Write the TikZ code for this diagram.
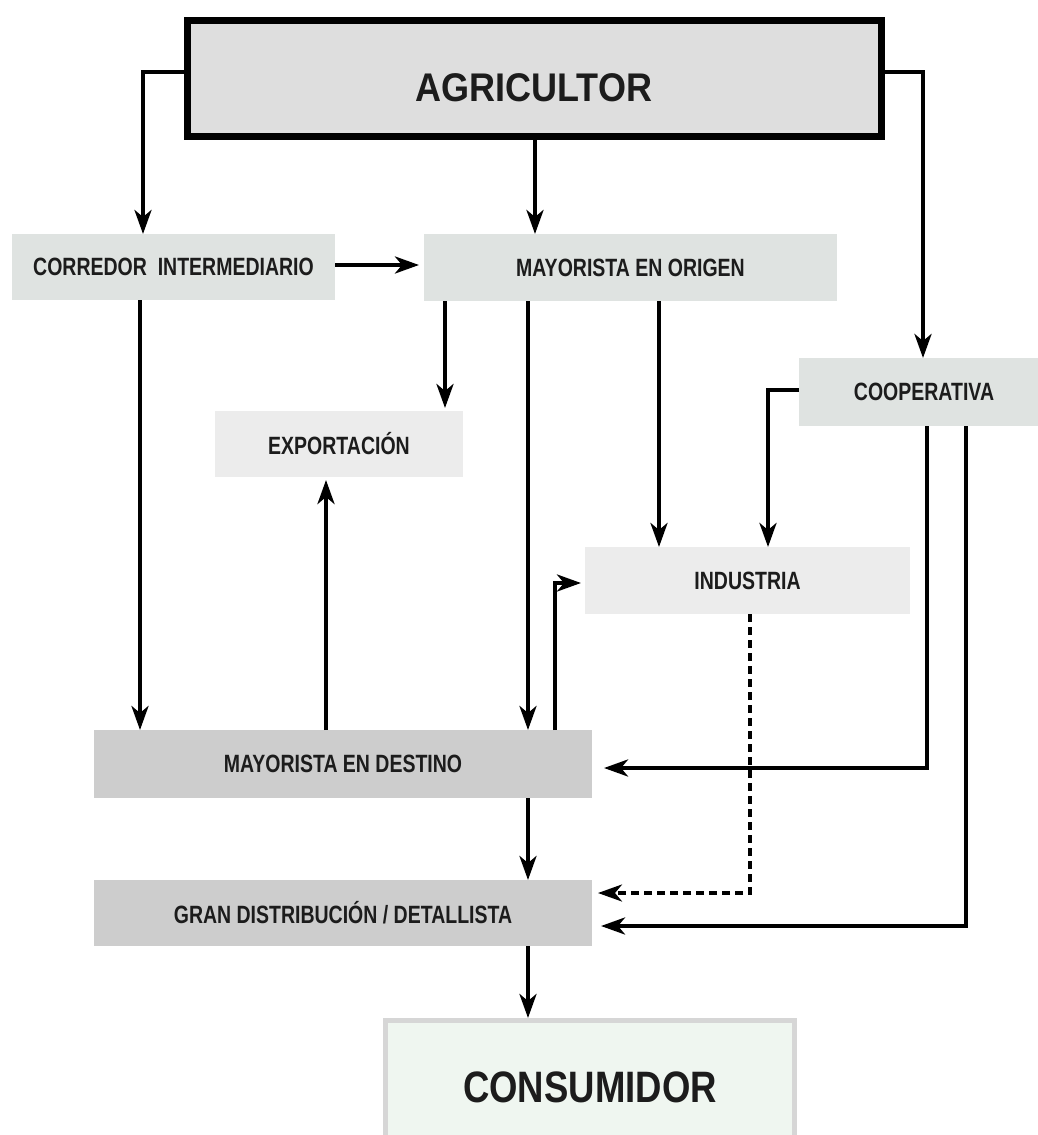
\documentclass[tikz,border=0pt]{standalone}
\usepackage{fontspec}
\newfontfamily\labfont[FakeStretch=0.78]{Liberation Sans}
\newfontfamily\agrifont[FakeStretch=0.9]{Liberation Sans}
\newfontfamily\consfont[FakeStretch=0.83]{Liberation Sans}
\usetikzlibrary{arrows.meta}
\definecolor{agrifill}{HTML}{DEDEDE}
\definecolor{greenfill}{HTML}{DFE3E1}
\definecolor{lightfill}{HTML}{ECECEC}
\definecolor{darkfill}{HTML}{CDCDCD}
\definecolor{consfill}{HTML}{EFF6F0}
\definecolor{consline}{HTML}{D6D6D6}
\definecolor{txt}{HTML}{1C1C1C}
\begin{document}
\begin{tikzpicture}[x=1pt,y=-1pt,
  box/.style={inner sep=0pt, outer sep=0pt, text=txt,
    font=\labfont\bfseries\fontsize{25}{27}\selectfont},
  greenbox/.style={box, fill=greenfill},
  lightbox/.style={box, fill=lightfill},
  darkbox/.style={box, fill=darkfill},
  bigtext/.style={inner sep=0pt, text=txt},
  arr/.style={line width=4pt, -{Stealth[length=24pt,width=17pt,inset=7pt]}},
  dasharr/.style={arr, dash pattern=on 8pt off 5pt, line width=3.2pt}
]
\clip (0,0) rectangle (1038,1135);
\fill[white] (0,0) rectangle (1038,1135);

% column / row helpers
\coordinate (xa) at (143,0);
\coordinate (xb) at (535,0);
\coordinate (xc) at (923,0);
\coordinate (xd) at (140,0);
\coordinate (xe) at (445,0);
\coordinate (xf) at (528,0);
\coordinate (xg) at (659,0);
\coordinate (xh) at (768,0);
\coordinate (xi) at (326,0);
\coordinate (xj) at (555,0);
\coordinate (xk) at (750,0);
\coordinate (xl) at (927,0);
\coordinate (xm) at (966,0);
\coordinate (ya) at (0,72);
\coordinate (yb) at (0,265);
\coordinate (yc) at (0,390);
\coordinate (yd) at (0,583);
\coordinate (ye) at (0,768);
\coordinate (yf) at (0,893);
\coordinate (yg) at (0,926);

% nodes
\node[draw, line width=7pt, fill=agrifill, inner sep=0pt, outer sep=0pt,
      minimum width=694pt, minimum height=116pt] (agri) at (534,78.5) {};
\node[bigtext, font=\agrifont\bfseries\fontsize{40}{44}\selectfont] (agritxt) at (534,88) {AGRICULTOR};

\node[greenbox, minimum width=323pt, minimum height=66pt] (corr) at (173.5,267) {CORREDOR\ \ INTERMEDIARIO};
\node[greenbox, minimum width=413pt, minimum height=67pt] (mo) at (630.5,267.5) {MAYORISTA EN ORIGEN};
\node[greenbox, minimum width=250pt, minimum height=68pt] (coop) at (924,392) {COOPERATIVA};
\node[lightbox, minimum width=248pt, minimum height=66pt] (exp) at (339,444) {EXPORTACIÓN};
\node[lightbox, minimum width=325pt, minimum height=67pt] (ind) at (747.5,580.5) {INDUSTRIA};
\node[darkbox, minimum width=498pt, minimum height=68pt] (md) at (343,764) {MAYORISTA EN DESTINO};
\node[darkbox, minimum width=498pt, minimum height=66pt] (gd) at (343,913) {GRAN DISTRIBUCIÓN / DETALLISTA};

\node[draw=consline, line width=5pt, fill=consfill, inner sep=0pt,
      minimum width=409pt, minimum height=140pt] (cons) at (590,1090.5) {};
\node[bigtext, font=\consfont\bfseries\fontsize{44}{48}\selectfont] (constxt) at (590,1087.5) {CONSUMIDOR};

% connectors
\draw[arr] (agri.west |- ya) -| (corr.north -| xa);
\draw[arr] (agri.south -| xb) -- (mo.north -| xb);
\draw[arr] (agri.east |- ya) -| (coop.north -| xc);
\draw[arr, shorten >=5pt] (corr.east |- yb) -- (mo.west |- yb);
\draw[arr, shorten >=3pt] (mo.south -| xe) -- (exp.north -| xe);
\draw[arr] (mo.south -| xf) -- (md.north -| xf);
\draw[arr] (mo.south -| xg) -- (ind.north -| xg);
\draw[arr] (coop.west |- yc) -| (ind.north -| xh);
\draw[arr] (corr.south -| xd) -- (md.north -| xd);
\draw[arr, shorten >=3pt] (md.north -| xi) -- (exp.south -| xi);
\draw[arr, shorten >=4pt] (md.north -| xj) |- (ind.west |- yd);
\draw[arr, shorten >=12pt] (coop.south -| xl) |- (md.east |- ye);
\draw[dasharr, shorten >=6pt] (ind.south -| xk) |- (gd.east |- yf);
\draw[arr, shorten >=9pt] (coop.south -| xm) |- (gd.east |- yg);
\draw[arr] (md.south -| xf) -- (gd.north -| xf);
\draw[arr] (gd.south -| xf) -- (cons.north -| xf);
\end{tikzpicture}
\end{document}
